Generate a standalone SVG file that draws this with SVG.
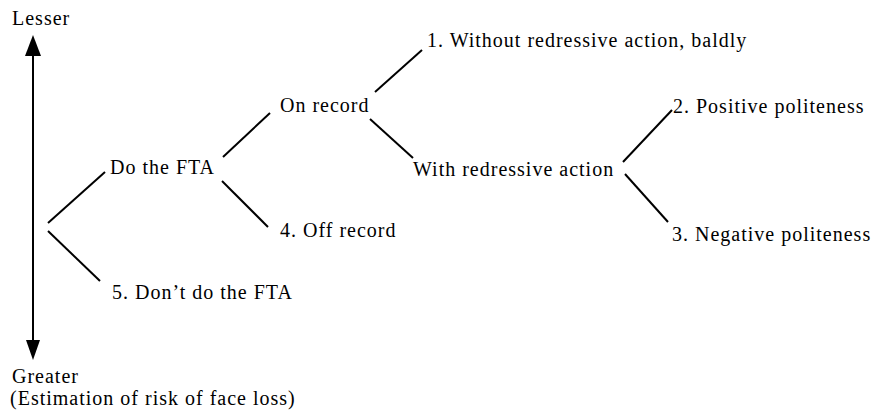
<svg xmlns="http://www.w3.org/2000/svg" width="875" height="412" viewBox="0 0 875 412">
<style>
text{font-family:'Liberation Serif','DejaVu Serif',serif;font-size:20px;fill:#000;letter-spacing:1px}
.c line{stroke:#000;stroke-width:2}
</style>
<rect width="875" height="412" fill="#fff"/>
<g id="axis">
<line x1="33" y1="50" x2="33" y2="346" stroke="#000" stroke-width="2"/>
<path d="M33,35 L25,56 L41,56 Z" fill="#000"/>
<path d="M33,360 L26,340 L40,340 Z" fill="#000"/>
<text x="12" y="25">Lesser</text>
<text x="12" y="383">Greater</text>
<text x="10" y="405">(Estimation of risk of face loss)</text>
</g>
<g class="c" id="connectors">
<line x1="48" y1="223" x2="105" y2="172"/>
<line x1="48" y1="231" x2="100" y2="281"/>
<line x1="223" y1="157" x2="270" y2="113"/>
<line x1="222" y1="181" x2="268" y2="227"/>
<line x1="375" y1="92" x2="422" y2="50"/>
<line x1="370" y1="119" x2="413" y2="158"/>
<line x1="623" y1="162" x2="672" y2="110"/>
<line x1="625" y1="174" x2="668" y2="222"/>
</g>
<g id="do"><text x="110" y="174">Do the FTA</text></g>
<g id="dont"><text x="112" y="299">5. Don’t do the FTA</text></g>
<g id="onrecord"><text x="280" y="112">On record</text></g>
<g id="offrecord"><text x="280" y="237">4. Off record</text></g>
<g id="without"><text x="427" y="47">1. Without redressive action, baldly</text></g>
<g id="with"><text x="413" y="176">With redressive action</text></g>
<g id="positive"><text x="673" y="113">2. Positive politeness</text></g>
<g id="negative"><text x="672" y="241">3. Negative politeness</text></g>
</svg>
